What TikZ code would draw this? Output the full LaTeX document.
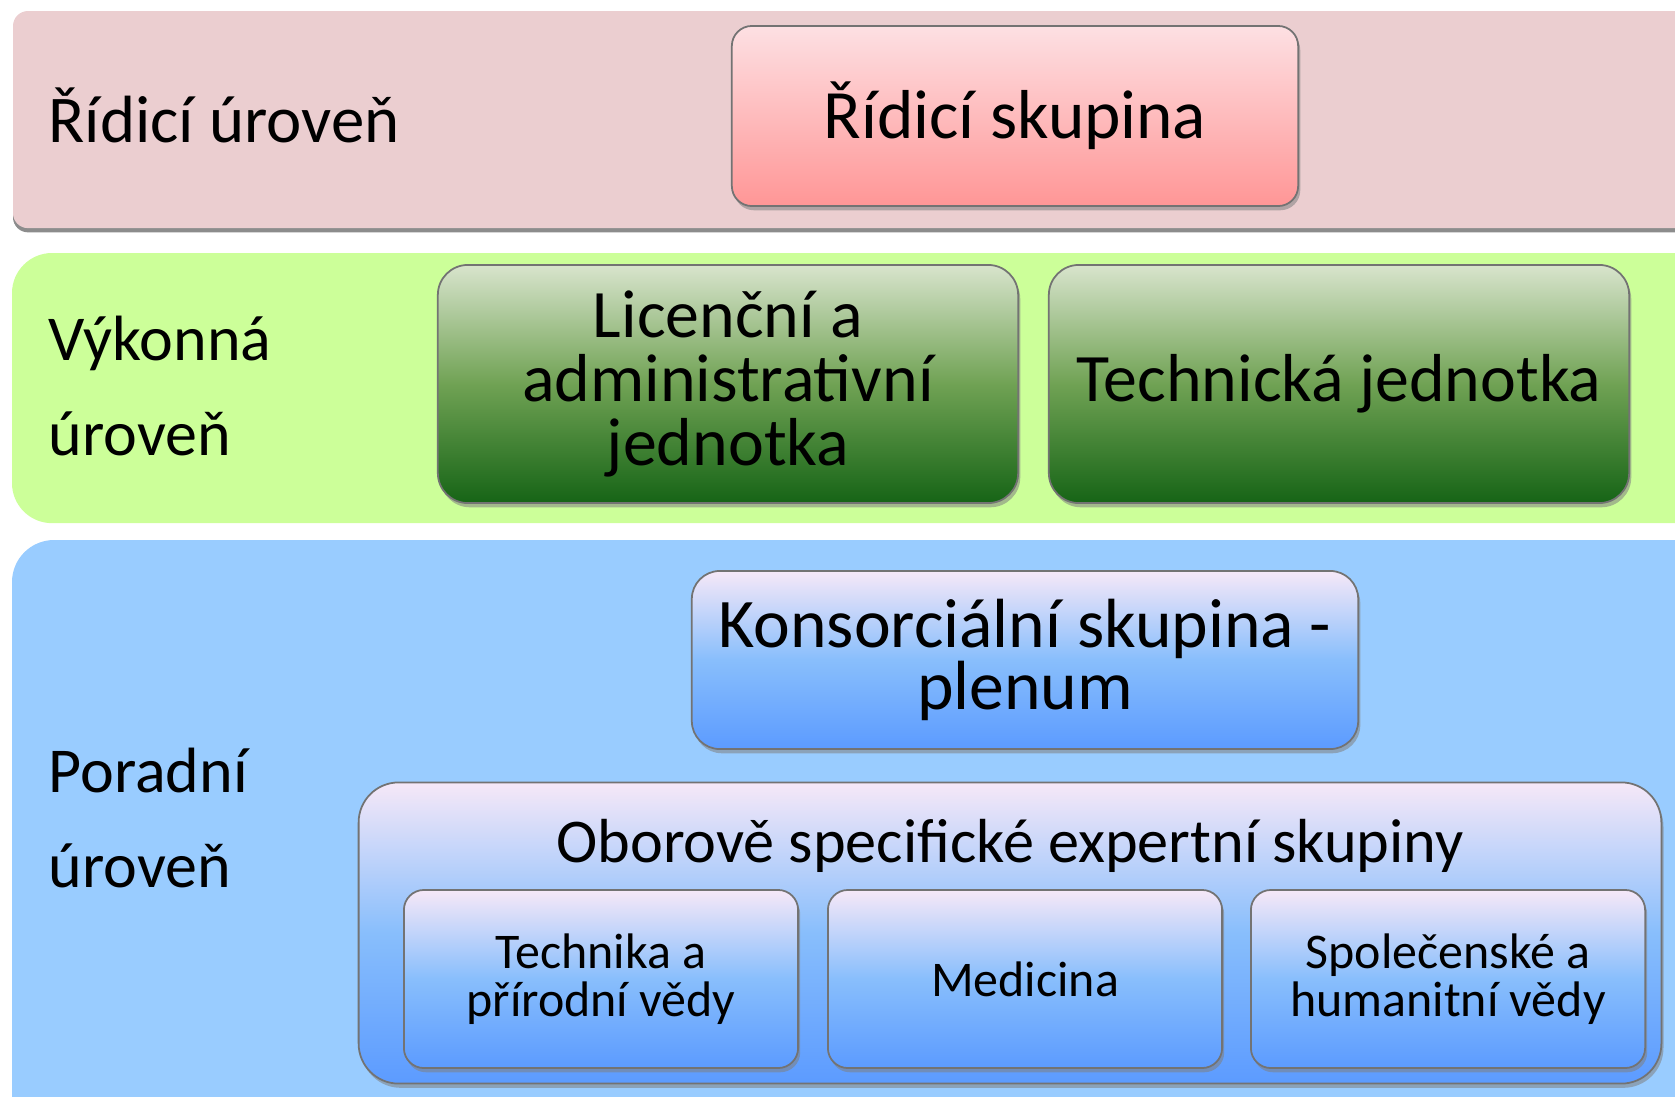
\documentclass[tikz,border=0pt]{standalone}
\usepackage{fontspec}
\setmainfont{Carlito}
\usepackage{xcolor}
\usetikzlibrary{positioning, shadows}

\definecolor{bandred}{RGB}{235,206,208}
\definecolor{bandgreen}{RGB}{204,255,153}
\definecolor{bandblue}{RGB}{153,204,255}
\definecolor{redtop}{RGB}{253,224,227}
\definecolor{redbot}{RGB}{255,150,150}
\definecolor{greentop}{RGB}{216,228,204}
\definecolor{greenmid}{RGB}{112,162,84}
\definecolor{greenbot}{RGB}{22,100,22}
\definecolor{bluetop}{RGB}{246,232,248}
\definecolor{bluemid}{RGB}{136,190,252}
\definecolor{bluebot}{RGB}{92,155,255}

\begin{document}
\begin{tikzpicture}[
      x=0.01cm, y=-0.01cm,
      band/.style={anchor=north west, inner sep=0pt, outer sep=0pt},
      lvl/.style={anchor=west, align=left, inner sep=0pt, font=\fontsize{18.2}{27}\selectfont},
      box/.style={draw=black!55, line width=0.5pt, align=center, inner sep=0pt,
        drop shadow={shadow xshift=0.6pt, shadow yshift=-1.2pt, opacity=0.55}},
      redbox/.style={box, rounded corners=0.2cm, top color=redtop, bottom color=redbot},
      greenbox/.style={box, rounded corners=0.3cm, top color=greentop, bottom color=greenbot, middle color=greenmid,
        font=\fontsize{19.3}{18.2}\selectfont},
      bluebox/.style={box, rounded corners=0.28cm, top color=bluetop, bottom color=bluebot, middle color=bluemid},
      cellbox/.style={bluebox, rounded corners=0.2cm, minimum width=3.94cm, minimum height=1.78cm,
        font=\fontsize{14.2}{13.6}\selectfont}
    ]
    \useasboundingbox (0,0) rectangle (1675,1096);
    \clip (0,0) rectangle (1675,1096);

    \node[band, fill=bandred, rounded corners=0.15cm, minimum width=16.80cm, minimum height=2.17cm,
      drop shadow={shadow xshift=0pt, shadow yshift=-1.2pt, fill=black!45, opacity=1}] (ctrlband) at (13,11) {};
    \node[band, fill=bandgreen, rounded corners=0.4cm, minimum width=17.00cm, minimum height=2.70cm] (execband) at (12,253) {};
    \node[band, fill=bandblue, rounded corners=0.42cm, minimum width=17.00cm, minimum height=6.00cm] (advband) at (12,540) {};

    \node[lvl, font=\fontsize{19}{27}\selectfont] (ctrllbl) at (48,115) {Řídicí úroveň};
    \node[lvl] (execlbl) at (48,386) {Výkonná\\úroveň};
    \node[lvl] (advlbl) at (48,818) {Poradní\\úroveň};

    \node[redbox, minimum width=5.66cm, minimum height=1.80cm, font=\fontsize{19.7}{20}\selectfont] (steer) at (1015,116) {Řídicí skupina};

    \node[greenbox, minimum width=5.80cm, minimum height=2.38cm] (licadm) at (728,384) {Licenční a\\administrativní\\jednotka};
    \node[greenbox, minimum width=5.80cm, minimum height=2.38cm] (tech) at (1339,384) {Technická jednotka};

    \node[bluebox, minimum width=6.66cm, minimum height=1.78cm, font=\fontsize{19.8}{17.6}\selectfont] (plenum) at (1025,660) {Konsorciální skupina -\\plenum};

    \node[bluebox, rounded corners=0.4cm, minimum width=13.02cm, minimum height=3.01cm] (expgrp) at (1010,933) {};
    \node[inner sep=0pt, font=\fontsize{17.7}{20}\selectfont] (expttl) at (1010,846) {Oborově specifické expertní skupiny};

    \node[cellbox] (natsci) at (601,979) {Technika a\\přírodní vědy};
    \node[cellbox] (med) at (1025,979) {Medicina};
    \node[cellbox] (socsci) at (1448,979) {Společenské a\\humanitní vědy};
  \end{tikzpicture}
\end{document}
